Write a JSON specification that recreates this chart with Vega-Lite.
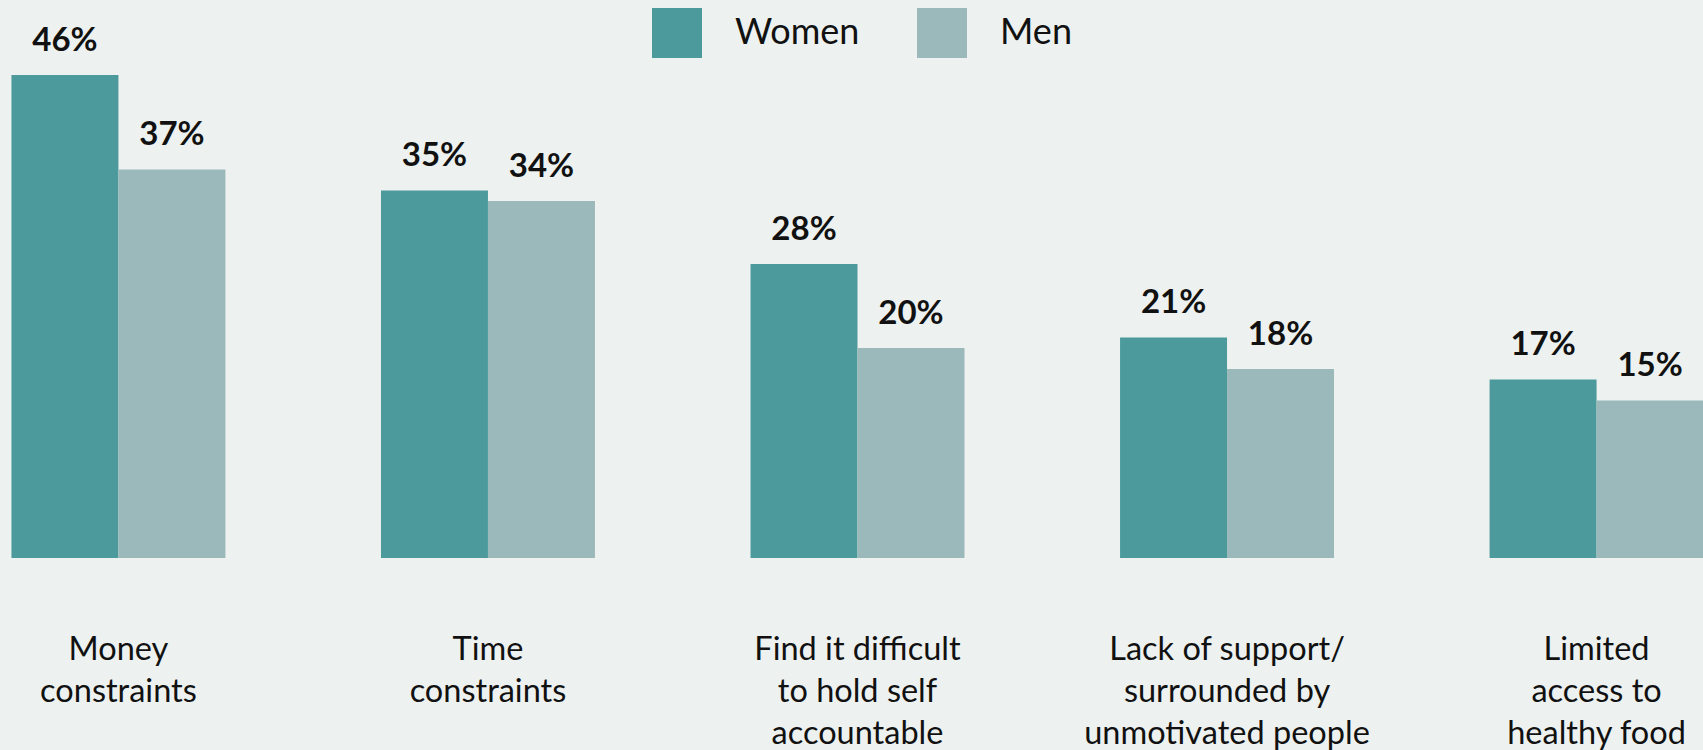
{
  "$schema": "https://vega.github.io/schema/vega-lite/v6.json",
  "width": 1715,
  "height": 558,
  "autosize": {"type": "none"},
  "padding": {"left": 0, "top": 0, "right": 0, "bottom": 192},
  "background": "#EDF1F0",
  "config": {"view": {"stroke": null}, "font": "Lato"},
  "data": {
    "values": [
      {"barrier": "Money|constraints", "gender": "Women", "value": 0.46},
      {"barrier": "Money|constraints", "gender": "Men", "value": 0.37},
      {"barrier": "Time|constraints", "gender": "Women", "value": 0.35},
      {"barrier": "Time|constraints", "gender": "Men", "value": 0.34},
      {"barrier": "Find it difficult|to hold self|accountable", "gender": "Women", "value": 0.28},
      {"barrier": "Find it difficult|to hold self|accountable", "gender": "Men", "value": 0.20},
      {"barrier": "Lack of support/|surrounded by|unmotivated people", "gender": "Women", "value": 0.21},
      {"barrier": "Lack of support/|surrounded by|unmotivated people", "gender": "Men", "value": 0.18},
      {"barrier": "Limited|access to|healthy food", "gender": "Women", "value": 0.17},
      {"barrier": "Limited|access to|healthy food", "gender": "Men", "value": 0.15}
    ]
  },
  "encoding": {
    "x": {
      "field": "barrier",
      "type": "nominal",
      "sort": null,
      "title": null,
      "scale": {"paddingInner": 0.421, "paddingOuter": 0.031},
      "axis": {
        "domain": false,
        "ticks": false,
        "labelAngle": 0,
        "labelAlign": "center",
        "labelBaseline": "top",
        "labelPadding": 75,
        "labelFontSize": 32.5,
        "labelLineHeight": 42,
        "labelFont": "Lato",
        "labelColor": "#111111",
        "labelLimit": 1000,
        "labelOverlap": false,
        "labelExpr": "split(datum.label, '|')"
      }
    },
    "xOffset": {
      "field": "gender",
      "type": "nominal",
      "sort": ["Women", "Men"],
      "scale": {"paddingInner": 0, "paddingOuter": 0}
    },
    "y": {
      "field": "value",
      "type": "quantitative",
      "scale": {"domain": [0, 0.5314], "nice": false, "zero": true},
      "axis": null
    }
  },
  "layer": [
    {
      "mark": {"type": "bar"},
      "encoding": {
        "color": {
          "field": "gender",
          "type": "nominal",
          "sort": ["Women", "Men"],
          "scale": {"domain": ["Women", "Men"], "range": ["#4C9A9B", "#9BB9BA"]},
          "legend": {
            "title": null,
            "orient": "none",
            "legendX": 652,
            "legendY": 8,
            "direction": "horizontal",
            "padding": 0,
            "symbolType": "square",
            "symbolSize": 2500,
            "symbolStrokeWidth": 0,
            "symbolOpacity": 1,
            "labelFontSize": 36,
            "labelFont": "Lato",
            "labelColor": "#111111",
            "labelOffset": 33,
            "columnPadding": 57
          }
        }
      }
    },
    {
      "mark": {
        "type": "text",
        "baseline": "alphabetic",
        "align": "center",
        "dy": -24,
        "fontSize": 33,
        "fontWeight": "bold",
        "font": "Lato",
        "color": "#111111"
      },
      "encoding": {
        "text": {"field": "value", "type": "quantitative", "format": ".0%"}
      }
    }
  ]
}
